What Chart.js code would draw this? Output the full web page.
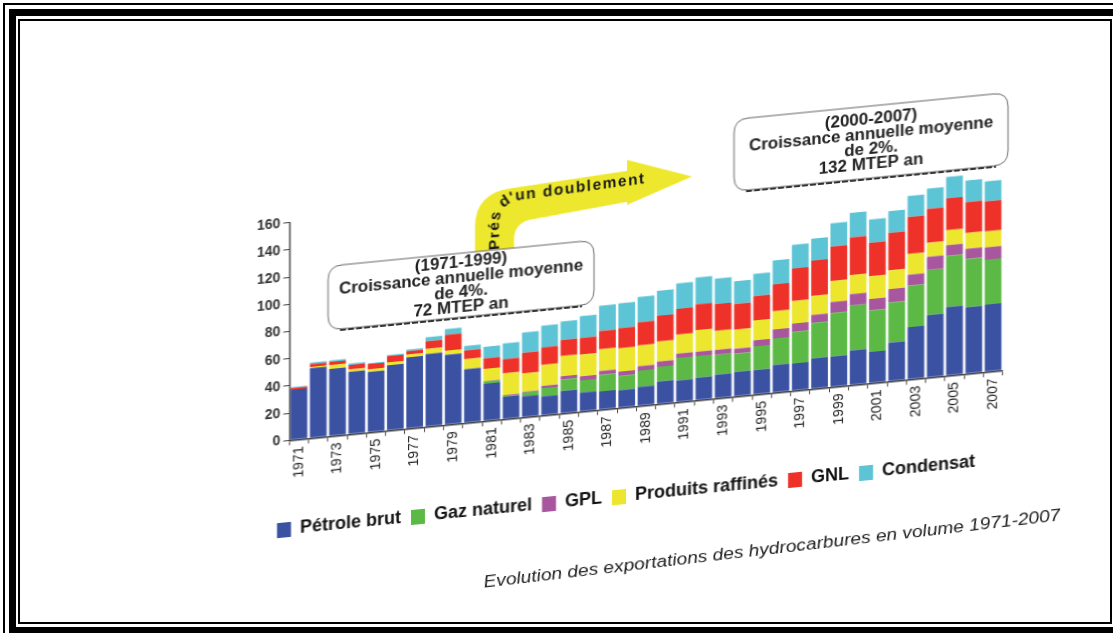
<!DOCTYPE html>
<html>
<head>
<meta charset="utf-8">
<title>Evolution des exportations des hydrocarbures en volume 1971-2007</title>
<script src="https://cdn.jsdelivr.net/npm/chart.js@4"></script>
<style>
  html, body { margin: 0; padding: 0; background: #fff; }
  #page { position: relative; width: 1113px; height: 633px; overflow: hidden; background: #fff; }
  .rule { position: absolute; background: #000; }
  #chart {
    position: absolute; left: 0; top: 0;
    transform-origin: 289.3px 439.3px;
    transform: skewY(-5.6deg);
  }
  #caption {
    position: absolute; left: 0; top: 0;
    white-space: nowrap;
    font: italic 16px "Liberation Sans", Arial, sans-serif;
    color: #222;
    transform: translate(772px, 549px) rotate(-6.65deg) scaleX(1.2) translate(-50%, -50%);
    transform-origin: 0 0;
  }
</style>
</head>
<body>
<div id="page">
  <!-- double frame -->
  <div class="rule" style="left:5px;top:3px;width:1108px;height:2px"></div>
  <div class="rule" style="left:3px;top:3px;width:2px;height:630px"></div>
  <div class="rule" style="left:9px;top:9px;width:1104px;height:7px"></div>
  <div class="rule" style="left:9px;top:9px;width:7px;height:624px"></div>
  <div class="rule" style="left:18px;top:19px;width:1094px;height:2px"></div>
  <div class="rule" style="left:18px;top:19px;width:2px;height:605px"></div>
  <div class="rule" style="left:1110px;top:19px;width:2px;height:605px"></div>
  <div class="rule" style="left:18px;top:622px;width:1094px;height:2px"></div>
  <div class="rule" style="left:9px;top:627px;width:1104px;height:6px"></div>

  <canvas id="chart" width="1113" height="633"></canvas>
  <div id="caption">Evolution des exportations des hydrocarbures en volume 1971-2007</div>
</div>

<script>
// Années
const years = ['1971','1972','1973','1974','1975','1976','1977','1978','1979','1980',
               '1981','1982','1983','1984','1985','1986','1987','1988','1989','1990',
               '1991','1992','1993','1994','1995','1996','1997','1998','1999','2000',
               '2001','2002','2003','2004','2005','2006','2007'];

// Exportations par produit (MTEP)
const petroleBrut = [37, 51.5, 49.5, 46, 44.5, 48, 52.5, 53.5, 51.5, 39.5,
                     27.5, 16.5, 15.5, 14, 16.5, 14, 13.5, 13, 14, 16.5,
                     16, 16.5, 17.5, 18, 18, 20.5, 20, 22.5, 22.5, 25.5,
                     23, 28.5, 38.5, 46, 50.5, 49, 49.5];
const gazNaturel = [0, 0, 0, 0, 0, 0, 0, 0, 0, 0,
                    1.5, 0.7, 2.5, 6, 8.5, 9, 12, 10.5, 12, 11,
                    16.5, 16, 14.5, 13.5, 17.5, 19.5, 23.5, 26, 32, 33,
                    30.5, 29.5, 30.5, 33, 37.5, 35.5, 33];
const gpl = [0, 0, 0, 0, 0, 0, 0, 0, 0, 0,
             0.5, 0.4, 0.7, 1.7, 2.5, 3, 3, 3.2, 3.2, 3.7,
             3.2, 3.2, 3.7, 3.7, 4.4, 6.5, 6, 6, 8, 8.5,
             8.5, 9.8, 8, 9.8, 8, 7.5, 9];
const produitsRaffines = [0, 1, 2.7, 1.7, 2, 2.2, 2, 3.7, 3.2, 7.4,
                          9, 16, 13.5, 15.5, 14.8, 16, 16, 17, 15.3, 14.8,
                          14, 16, 14, 14, 14.8, 13.5, 16.5, 14, 15.5, 14,
                          16.7, 13.8, 15.3, 10.3, 11, 11.5, 11.8];
const gnl = [1.2, 2, 2.5, 3.2, 3.7, 4.4, 2.5, 5.7, 11.6, 6.4,
             7.7, 10.6, 15.3, 12.8, 11.8, 12.3, 13.5, 15, 17.2, 18.9,
             18.9, 18.9, 19.7, 18.9, 17.7, 19.7, 23.9, 25.8, 25.3, 27.6,
             24.6, 27.6, 27.3, 25.1, 23.4, 22.9, 22.1];
const condensat = [0.7, 1, 1, 1.2, 0.7, 1, 1.2, 3, 4.2, 3.4,
                   8.5, 11.6, 14.8, 16, 13.5, 16, 18.5, 18.2, 18.5, 18.5,
                   18.7, 19.7, 18.7, 16.7, 16.5, 17.5, 17.5, 16.2, 17.2, 18,
                   17.2, 16, 15.3, 14.8, 15.7, 15.7, 14.8];

const yTicks = [0, 20, 40, 60, 80, 100, 120, 140, 160];

// Encadrés de commentaire
const noteEarly = ['(1971-1999)', 'Croissance annuelle moyenne', 'de 4%.', '72 MTEP an'];
const noteLate  = ['(2000-2007)', 'Croissance annuelle moyenne', 'de 2%.', '132 MTEP an'];
const arrowText = "Prés d'un doublement";

const FONT = '"Liberation Sans", Arial, Helvetica, sans-serif';
Chart.defaults.font.family = FONT;
Chart.defaults.color = '#222';

function roundRectPath(ctx, x, y, w, h, r) {
  ctx.beginPath();
  ctx.moveTo(x + r, y);
  ctx.lineTo(x + w - r, y);
  ctx.quadraticCurveTo(x + w, y, x + w, y + r);
  ctx.lineTo(x + w, y + h - r);
  ctx.quadraticCurveTo(x + w, y + h, x + w - r, y + h);
  ctx.lineTo(x + r, y + h);
  ctx.quadraticCurveTo(x, y + h, x, y + h - r);
  ctx.lineTo(x, y + r);
  ctx.quadraticCurveTo(x, y, x + r, y);
  ctx.closePath();
}

function drawNote(ctx, lines, box) {
  ctx.save();
  roundRectPath(ctx, box.x, box.y, box.w, box.h, 14);
  ctx.fillStyle = '#fff';
  ctx.fill();
  ctx.lineWidth = 1;
  ctx.strokeStyle = '#666';
  ctx.stroke();
  // ombre pointillée du bas
  ctx.setLineDash([6, 2]);
  ctx.lineWidth = 2;
  ctx.strokeStyle = '#333';
  ctx.beginPath();
  ctx.moveTo(box.x + 12, box.y + box.h + 1);
  ctx.lineTo(box.x + box.w - 12, box.y + box.h + 1);
  ctx.stroke();
  ctx.setLineDash([]);
  ctx.fillStyle = '#222';
  ctx.font = 'bold 16px ' + FONT;
  ctx.textAlign = 'center';
  ctx.textBaseline = 'middle';
  const cx = box.x + box.w / 2;
  const cy = box.y + box.h / 2;
  const step = 15;
  lines.forEach((t, i) => {
    ctx.save();
    ctx.translate(cx, cy + (i - (lines.length - 1) / 2) * step);
    ctx.scale(1.06, 1);
    ctx.fillText(t, 0, 0);
    ctx.restore();
  });
  ctx.restore();
}

function buildPath() {
  const pts = [];
  const p0 = [495, 270], p1 = [495, 245], c = [495, 218], p2 = [524, 218], p3 = [670, 213];
  pts.push(p0);
  pts.push(p1);
  for (let i = 1; i <= 40; i++) {
    const t = i / 40, u = 1 - t;
    pts.push([u * u * p1[0] + 2 * u * t * c[0] + t * t * p2[0],
              u * u * p1[1] + 2 * u * t * c[1] + t * t * p2[1]]);
  }
  pts.push(p3);
  const cum = [0];
  for (let i = 1; i < pts.length; i++) {
    cum.push(cum[i - 1] + Math.hypot(pts[i][0] - pts[i - 1][0], pts[i][1] - pts[i - 1][1]));
  }
  return { pts, cum };
}

function pointAt(path, d) {
  const { pts, cum } = path;
  let i = 1;
  while (i < cum.length - 1 && cum[i] < d) i++;
  const a = pts[i - 1], b = pts[i];
  const seg = cum[i] - cum[i - 1] || 1;
  const t = (d - cum[i - 1]) / seg;
  return { x: a[0] + (b[0] - a[0]) * t, y: a[1] + (b[1] - a[1]) * t,
           angle: Math.atan2(b[1] - a[1], b[0] - a[0]) };
}

function drawArrow(ctx) {
  ctx.save();
  ctx.fillStyle = '#EDE82D';
  ctx.beginPath();
  ctx.moveTo(475, 285);
  ctx.lineTo(475, 245);
  ctx.quadraticCurveTo(475, 211, 512, 210);
  ctx.lineTo(627, 204);
  ctx.lineTo(627, 193);
  ctx.lineTo(692, 216);
  ctx.lineTo(627, 238);
  ctx.lineTo(627, 235);
  ctx.lineTo(533, 243);
  ctx.quadraticCurveTo(514, 244, 514, 262);
  ctx.lineTo(514, 285);
  ctx.closePath();
  ctx.fill();

  // texte le long de la flèche
  const path = buildPath();
  ctx.fillStyle = '#1a1a1a';
  ctx.font = 'bold 15.5px ' + FONT;
  ctx.textBaseline = 'middle';
  ctx.textAlign = 'left';
  let d = 0;
  for (const ch of arrowText) {
    const w = ctx.measureText(ch).width;
    const p = pointAt(path, d + w / 2);
    ctx.save();
    ctx.translate(p.x, p.y);
    ctx.rotate(p.angle);
    ctx.fillText(ch, -w / 2, 0);
    ctx.restore();
    d += w + 1.5;
  }
  ctx.restore();
}

const notesPlugin = {
  id: 'notes',
  afterDraw(chart) {
    const ctx = chart.ctx;
    drawArrow(ctx);
    drawNote(ctx, noteEarly, { x: 328, y: 270, w: 266, h: 64 });
    drawNote(ctx, noteLate,  { x: 734, y: 163, w: 274, h: 72 });
  }
};

const series = [
  { label: 'Pétrole brut',      data: petroleBrut,      color: '#3B52A3' },
  { label: 'Gaz naturel',       data: gazNaturel,       color: '#5DB946' },
  { label: 'GPL',               data: gpl,              color: '#A8579F' },
  { label: 'Produits raffinés', data: produitsRaffines, color: '#EDE62E' },
  { label: 'GNL',               data: gnl,              color: '#EE3229' },
  { label: 'Condensat',         data: condensat,        color: '#5CC4D5' }
];

new Chart(document.getElementById('chart'), {
  type: 'bar',
  data: {
    labels: years,
    datasets: series.map(s => ({
      label: s.label,
      data: s.data,
      backgroundColor: s.color,
      borderWidth: 0,
      barPercentage: 0.866,
      categoryPercentage: 1
    }))
  },
  options: {
    responsive: false,
    animation: false,
    devicePixelRatio: 1,
    layout: { padding: { left: 249.3, top: 222.7, right: 110.3, bottom: 84.5 } },
    scales: {
      x: {
        stacked: true,
        afterFit: (scale) => { scale.height = 70.2; },
        grid: { display: true, drawOnChartArea: false, tickLength: 5, color: '#444', offset: true },
        border: { color: '#444', width: 1.5 },
        ticks: {
          autoSkip: false,
          minRotation: 90,
          maxRotation: 90,
          padding: 2,
          color: '#222',
          font: { size: 14 },
          callback: (v, i) => (i % 2 === 0 ? years[i] : '')
        }
      },
      y: {
        stacked: true,
        min: yTicks[0],
        max: yTicks[yTicks.length - 1],
        afterFit: (scale) => { scale.width = 40; },
        afterBuildTicks: (scale) => { scale.ticks = yTicks.map(v => ({ value: v })); },
        grid: { display: true, drawOnChartArea: false, tickLength: 6, color: '#444' },
        border: { color: '#444', width: 1.5 },
        ticks: { padding: 3, color: '#333', font: { size: 14, weight: 'bold' } }
      }
    },
    plugins: {
      tooltip: { enabled: false },
      legend: {
        position: 'bottom',
        labels: {
          boxWidth: 14,
          boxHeight: 15,
          padding: 10,
          color: '#111',
          font: { size: 18, weight: 'bold' }
        }
      }
    }
  },
  plugins: [notesPlugin]
});
</script>
</body>
</html>
